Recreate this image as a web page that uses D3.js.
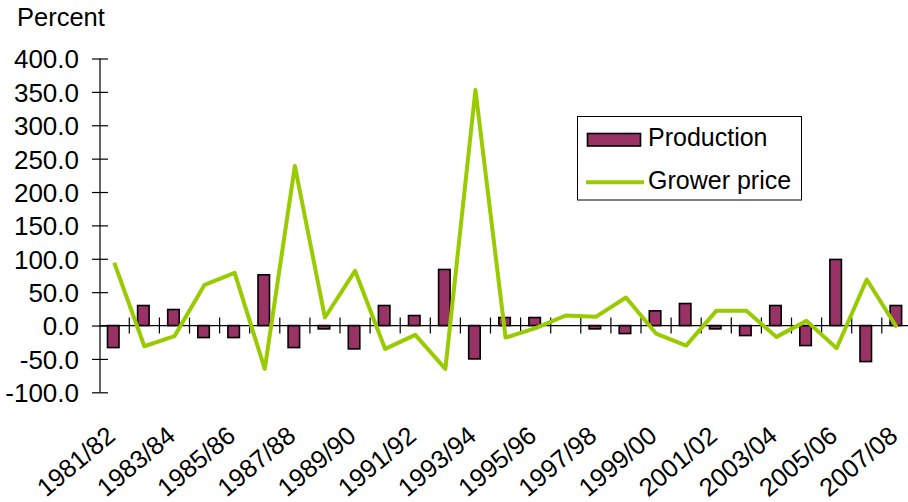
<!DOCTYPE html>
<html>
<head>
<meta charset="utf-8">
<script src="https://cdn.jsdelivr.net/npm/d3@7"></script>
<style>
  html, body { margin: 0; padding: 0; background: #fff; }
  svg { display: block; }
  text { font-family: "Liberation Sans", Arial, sans-serif; fill: #000; }
</style>
</head>
<body>
<svg id="chart" width="908" height="502"></svg>
<script>
// Annual percentage change by marketing year
const categories = [
  "1981/82", "1982/83", "1983/84", "1984/85", "1985/86", "1986/87", "1987/88",
  "1988/89", "1989/90", "1990/91", "1991/92", "1992/93", "1993/94", "1994/95",
  "1995/96", "1996/97", "1997/98", "1998/99", "1999/00", "2000/01", "2001/02",
  "2002/03", "2003/04", "2004/05", "2005/06", "2006/07", "2007/08"
];
const production = [
  -33, 30, 24, -18, -18, 76, -33, -5, -35, 30, 15, 84, -50, 12,
  12, 0, -5, -12, 22, 33, -5, -15, 30, -30, 99, -54, 30
];
const growerPrice = [
  94, -31, -16, 61, 79, -65, 239, 12, 82, -35, -14, -65, 353, -18,
  -4, 15, 13, 42, -12, -30, 22, 22, -17, 7, -34, 69, -3
];
const yTicks = [-100, -50, 0, 50, 100, 150, 200, 250, 300, 350, 400];
const xLabels = categories.filter((d, i) => i % 2 === 0);
const seriesNames = ["Production", "Grower price"];

const barColor = "#993366";
const lineColor = "#99cc00";

const svg = d3.select("#chart");

const x = d3.scaleBand().domain(categories).range([99.2, 911.9]).padding(0);
const y = d3.scaleLinear().domain([-100, 400]).range([392.3, 58.5]);
const bw = x.bandwidth();

// Y axis with ticks crossing the axis line
const yAxis = svg.append("g")
  .attr("transform", `translate(${x.range()[0] + 0.8},0)`)
  .call(d3.axisLeft(y).tickValues(yTicks).tickSize(8).tickPadding(13)
    .tickFormat(d => d.toFixed(1)));
yAxis.select(".domain").attr("d", `M0,${y(-100)}V${y(400)}`).attr("stroke", "#000").attr("stroke-width", 1.2);
yAxis.selectAll(".tick line").attr("x1", -8).attr("x2", 8).attr("stroke", "#000").attr("stroke-width", 1.2);
yAxis.selectAll(".tick text").style("font-size", "26px").attr("dy", "0.36em")
  .style("font-family", "'Liberation Sans', Arial, sans-serif");

// Title of the value axis
svg.append("text").attr("x", 17).attr("y", 26).style("font-size", "25.5px").text("Percent");

// Bars
svg.append("g").selectAll("rect")
  .data(production)
  .join("rect")
  .attr("x", (d, i) => x(categories[i]) + bw / 2 - 1 - 5.75)
  .attr("width", 11.5)
  .attr("y", d => y(Math.max(0, d)))
  .attr("height", d => Math.abs(y(d) - y(0)))
  .attr("fill", barColor)
  .attr("stroke", "#000")
  .attr("stroke-width", 1.6);

// Zero line with category boundary ticks
const xAxis = svg.append("g");
xAxis.append("line")
  .attr("x1", x.range()[0]).attr("x2", x.range()[1])
  .attr("y1", y(0)).attr("y2", y(0))
  .attr("stroke", "#000").attr("stroke-width", 1.2);
xAxis.selectAll("line.tick")
  .data(categories.slice(1))
  .join("line")
  .attr("class", "tick")
  .attr("x1", d => x(d)).attr("x2", d => x(d))
  .attr("y1", y(0) - 8).attr("y2", y(0) + 8)
  .attr("stroke", "#000").attr("stroke-width", 1.2);

// Category labels, every second year, slanted
svg.append("g").selectAll("text")
  .data(xLabels)
  .join("text")
  .attr("transform", d => `translate(${x(d) + bw / 2 + 2.5},438.5) rotate(-40)`)
  .attr("text-anchor", "end")
  .style("font-size", "25.5px")
  .text(d => d);

// Grower price line
const line = d3.line()
  .x((d, i) => x(categories[i]) + bw / 2)
  .y(d => y(d));
svg.append("path")
  .datum(growerPrice)
  .attr("d", line)
  .attr("fill", "none")
  .attr("stroke", lineColor)
  .attr("stroke-width", 4)
  .attr("stroke-linejoin", "round");

// Legend
const legend = svg.append("g");
legend.append("rect")
  .attr("x", 577.5).attr("y", 116.5).attr("width", 224).attr("height", 83.5)
  .attr("fill", "#fff").attr("stroke", "#000").attr("stroke-width", 1);
legend.append("rect")
  .attr("x", 587.5).attr("y", 133.5).attr("width", 53).attr("height", 12.5)
  .attr("fill", barColor).attr("stroke", "#000").attr("stroke-width", 1.6);
legend.append("line")
  .attr("x1", 586).attr("x2", 644).attr("y1", 182.3).attr("y2", 182.3)
  .attr("stroke", lineColor).attr("stroke-width", 4);
legend.selectAll("text.entry")
  .data(seriesNames)
  .join("text")
  .attr("class", "entry")
  .attr("x", 648)
  .attr("y", (d, i) => 146 + i * 42.5)
  .style("font-size", "25px")
  .text(d => d);
</script>
</body>
</html>
